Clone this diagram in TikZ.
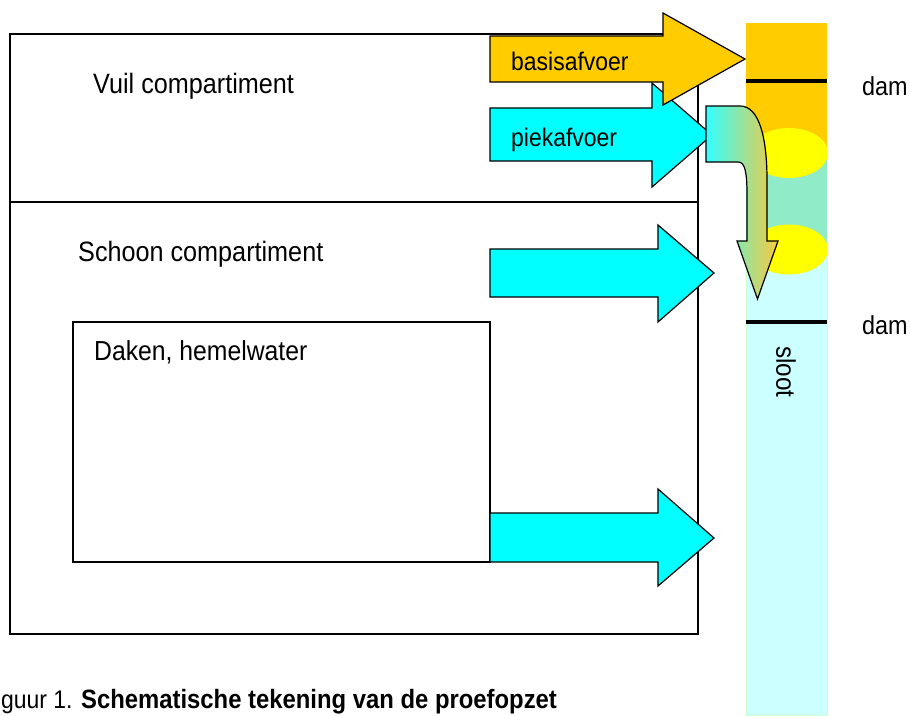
\documentclass[tikz,border=0pt]{standalone}
\usepackage{fontspec}
\setmainfont[FakeStretch=0.9]{Liberation Sans}
\definecolor{orng}{RGB}{255,204,0}
\definecolor{cyn}{RGB}{0,255,255}
\definecolor{grn}{RGB}{144,235,200}
\definecolor{lcyn}{RGB}{204,255,255}
\definecolor{lgrn}{RGB}{204,255,204}
\definecolor{ylw}{RGB}{255,255,0}
\definecolor{gold}{RGB}{250,200,60}
\begin{document}
\begin{tikzpicture}[x=1pt,y=-1pt,
  box/.style={draw=black,line width=1.2pt},
  flow/.style={draw=black,line width=1.2pt,line join=miter},
  lbl/.style={inner sep=0pt,anchor=base west,font=\fontsize{26}{30}\selectfont},
  biglbl/.style={lbl,font=\fontsize{28}{32}\selectfont},
  arrlbl/.style={lbl,font=\fontsize{25.5}{30}\selectfont},
  damline/.style={line width=4pt,black}]
\useasboundingbox (0,0) rectangle (910,715);
% ditch column
\fill[orng] (746,23) rectangle (827,152);
\fill[grn] (746,152) rectangle (827,249);
\filldraw[fill=lcyn,draw=lgrn,line width=1pt] (746,249) rectangle (827,715);
\begin{scope}
\clip (746,23) rectangle (827,715);
\fill[ylw] (789,153) ellipse (39 and 25);
\fill[ylw] (789,249.5) ellipse (39 and 25);
\end{scope}
\draw[damline] (746,81) -- (827,81);
\draw[damline] (746,322) -- (827,322);
% compartments
\draw[box] (10,34) rectangle (698,634);
\draw[box] (10,202) -- (698,202);
\draw[box] (73,322) rectangle (490,562);
% arrows
\filldraw[flow,fill=cyn] (490,108) -- (652,108) -- (652,83) -- (712,135) -- (652,187) -- (652,161) -- (490,161) -- cycle;
\filldraw[flow,fill=orng] (490,36) -- (663,36) -- (663,13) -- (745,59) -- (663,105) -- (663,82) -- (490,82) -- cycle;
\filldraw[flow,fill=cyn] (490,249) -- (658,249) -- (658,225) -- (714,273) -- (658,322) -- (658,297) -- (490,297) -- cycle;
\filldraw[flow,fill=cyn] (490,513) -- (658,513) -- (658,489) -- (714,538) -- (658,586) -- (658,562) -- (490,562) -- cycle;
% bent gradient arrow
\draw[flow,left color=cyn!80!white,right color=gold] (706,106) -- (740,106) .. controls (760,106) and (767,140) .. (767,180) -- (767,241) -- (778,241) -- (757.5,299) -- (737,241) -- (747,241) -- (747,195) .. controls (747,172) and (745,162) .. (738,162) -- (706,162) -- cycle;
% labels
\node[arrlbl] (basis) at (511,70) {basisafvoer};
\node[arrlbl] (piek) at (511,146) {piekafvoer};
\node[biglbl] (vuil) at (93,93) {Vuil compartiment};
\node[biglbl] (schoon) at (78,261) {Schoon compartiment};
\node[lbl,font=\fontsize{27.5}{32}\selectfont] (daken) at (94,360) {Daken, hemelwater};
\node[lbl] (dam1) at (862,95) {dam};
\node[lbl] (dam2) at (862,334) {dam};
\node[inner sep=0pt,rotate=-90,font=\fontsize{27}{30}\selectfont] (sloot) at (786,372) {sloot};
\node[lbl,font=\fontsize{25.5}{30}\selectfont] (cap) at (1,708) {guur 1. {\fontsize{26.5}{30}\selectfont\bfseries Schematische tekening van de proefopzet}};
\end{tikzpicture}
\end{document}
